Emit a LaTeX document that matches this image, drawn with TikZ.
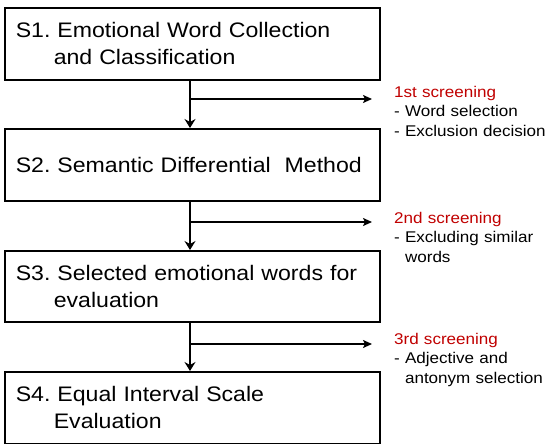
\documentclass[tikz,border=0pt]{standalone}
\usepackage{fontspec}
\setmainfont{Liberation Sans}[FakeStretch=1.1]
\usetikzlibrary{arrows.meta}
\definecolor{screenred}{RGB}{192,0,0}
\frenchspacing
\begin{document}
\begin{tikzpicture}[x=1pt,y=-1pt,
  stepbox/.style={draw, line width=1.6pt, minimum width=375pt, minimum height=72pt,
    text width=353pt, inner xsep=11pt, inner ysep=0pt, align=left,
    font=\fontsize{21}{27}\selectfont, anchor=north west},
  arr/.style={line width=1.6pt, -{Stealth[length=9pt,width=11pt,inset=3pt]}},
  harr/.style={line width=1.6pt, -{Stealth[length=9pt,width=8pt,inset=2pt]}},
  note/.style={anchor=base west, inner sep=0pt, text width=157pt, align=left,
    font=\fontsize{15.5}{19.7}\selectfont}]
\useasboundingbox (0,0) rectangle (551,444);
\node[stepbox] (b1) at (4,7) {S1. Emotional Word Collection\\\hspace*{38pt}and Classification};
\node[stepbox] (b2) at (4,128) {S2. Semantic Differential\ \ Method};
\node[stepbox, minimum height=71pt] (b3) at (4,250) {S3. Selected emotional words for\\\hspace*{38pt}evaluation};
\node[stepbox] (b4) at (4,371) {S4. Equal Interval Scale\\\hspace*{38pt}Evaluation};
\coordinate (ax) at (190,0);
\draw[arr] (b1.south -| ax) -- (b2.north -| ax);
\draw[arr] (b2.south -| ax) -- (b3.north -| ax);
\draw[arr] (b3.south -| ax) -- (b4.north -| ax);
\coordinate (j1) at (190,99);  \coordinate (e1) at (372,99);
\coordinate (j2) at (190,222); \coordinate (e2) at (372,222);
\coordinate (j3) at (190,344); \coordinate (e3) at (372,344);
\draw[harr] (j1) -- (e1);
\draw[harr] (j2) -- (e2);
\draw[harr] (j3) -- (e3);
\node[note] (n1) at (394,97) {\textcolor{screenred}{1st screening}\\- Word selection\\- Exclusion decision};
\node[note] (n2) at (394,223) {\textcolor{screenred}{2nd screening}\\- Excluding similar\\\phantom{- }words};
\node[note] (n3) at (394,344) {\textcolor{screenred}{3rd screening}\\- Adjective and\\\phantom{- }antonym selection};
\end{tikzpicture}
\end{document}
